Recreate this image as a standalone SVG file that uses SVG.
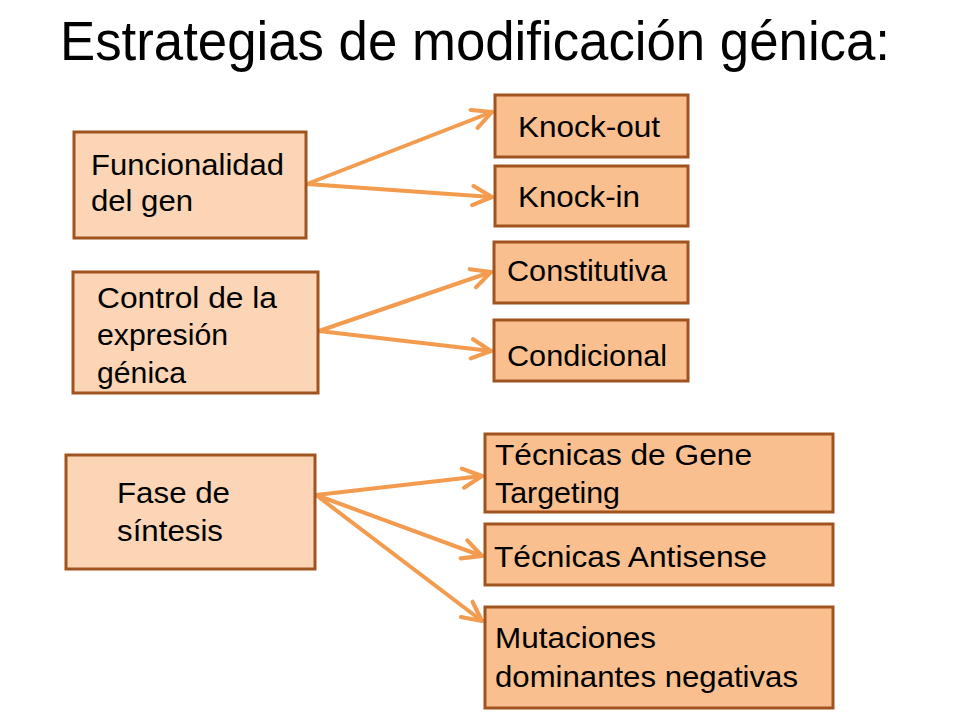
<svg xmlns="http://www.w3.org/2000/svg" width="960" height="720" viewBox="0 0 960 720">
<style>
text{font-family:"Liberation Sans",Arial,sans-serif;fill:#000}
.t{font-size:29px}
.l{fill:#FBD5B5;stroke:#A0531E;stroke-width:3}
.r{fill:#F9BF8F;stroke:#A0531E;stroke-width:3}
.c{stroke:#F39B4F;stroke-width:4;fill:none;stroke-linecap:round}
</style>
<defs>
<marker id="a" viewBox="0 0 10 10" refX="9" refY="5" markerWidth="6" markerHeight="6" orient="auto" markerUnits="strokeWidth">
<path d="M1,1 L9,5 L1,9" fill="none" stroke="#F39B4F" stroke-width="1.7" stroke-linecap="round" stroke-linejoin="round"/>
</marker>
</defs>
<rect width="960" height="720" fill="#fff"/>
<text x="60" y="60" font-size="56" textLength="830" lengthAdjust="spacingAndGlyphs">Estrategias de modificación génica:</text>
<g id="connectors">
<line class="c" x1="307" y1="184" x2="492" y2="112" marker-end="url(#a)"/>
<line class="c" x1="307" y1="184" x2="492" y2="197" marker-end="url(#a)"/>
<line class="c" x1="319" y1="331" x2="491" y2="272" marker-end="url(#a)"/>
<line class="c" x1="319" y1="331" x2="491" y2="351" marker-end="url(#a)"/>
<line class="c" x1="316" y1="495" x2="482" y2="476" marker-end="url(#a)"/>
<line class="c" x1="316" y1="495" x2="482" y2="556" marker-end="url(#a)"/>
<line class="c" x1="316" y1="495" x2="482" y2="621" marker-end="url(#a)"/>
</g>
<g id="funcionalidad"><rect class="l" x="74" y="132" width="232" height="106"/><text class="t" x="91" y="175" textLength="193" lengthAdjust="spacingAndGlyphs">Funcionalidad</text><text class="t" x="91" y="211" textLength="102" lengthAdjust="spacingAndGlyphs">del gen</text></g>
<g id="knockout"><rect class="r" x="495" y="95" width="193" height="62"/><text class="t" x="518" y="137" textLength="142" lengthAdjust="spacingAndGlyphs">Knock-out</text></g>
<g id="knockin"><rect class="r" x="495" y="166" width="193" height="60"/><text class="t" x="518" y="207" textLength="122" lengthAdjust="spacingAndGlyphs">Knock-in</text></g>
<g id="control"><rect class="l" x="73" y="272" width="245" height="121"/><text class="t" x="97" y="308" textLength="180" lengthAdjust="spacingAndGlyphs">Control de la</text><text class="t" x="97" y="345" textLength="131" lengthAdjust="spacingAndGlyphs">expresión</text><text class="t" x="97" y="383" textLength="89" lengthAdjust="spacingAndGlyphs">génica</text></g>
<g id="constitutiva"><rect class="r" x="494" y="242" width="194" height="61"/><text class="t" x="507" y="281" textLength="160" lengthAdjust="spacingAndGlyphs">Constitutiva</text></g>
<g id="condicional"><rect class="r" x="494" y="320" width="194" height="61"/><text class="t" x="507" y="366" textLength="160" lengthAdjust="spacingAndGlyphs">Condicional</text></g>
<g id="fase"><rect class="l" x="66" y="455" width="249" height="114"/><text class="t" x="117" y="503" textLength="113" lengthAdjust="spacingAndGlyphs">Fase de</text><text class="t" x="117" y="541" textLength="106" lengthAdjust="spacingAndGlyphs">síntesis</text></g>
<g id="targeting"><rect class="r" x="485" y="434" width="348" height="78"/><text class="t" x="495" y="465" textLength="257" lengthAdjust="spacingAndGlyphs">Técnicas de Gene</text><text class="t" x="495" y="503" textLength="125" lengthAdjust="spacingAndGlyphs">Targeting</text></g>
<g id="antisense"><rect class="r" x="485" y="524" width="348" height="61"/><text class="t" x="494" y="567" textLength="273" lengthAdjust="spacingAndGlyphs">Técnicas Antisense</text></g>
<g id="mutaciones"><rect class="r" x="485" y="607" width="348" height="101"/><text class="t" x="495" y="648" textLength="161" lengthAdjust="spacingAndGlyphs">Mutaciones</text><text class="t" x="495" y="687" textLength="303" lengthAdjust="spacingAndGlyphs">dominantes negativas</text></g>
</svg>
